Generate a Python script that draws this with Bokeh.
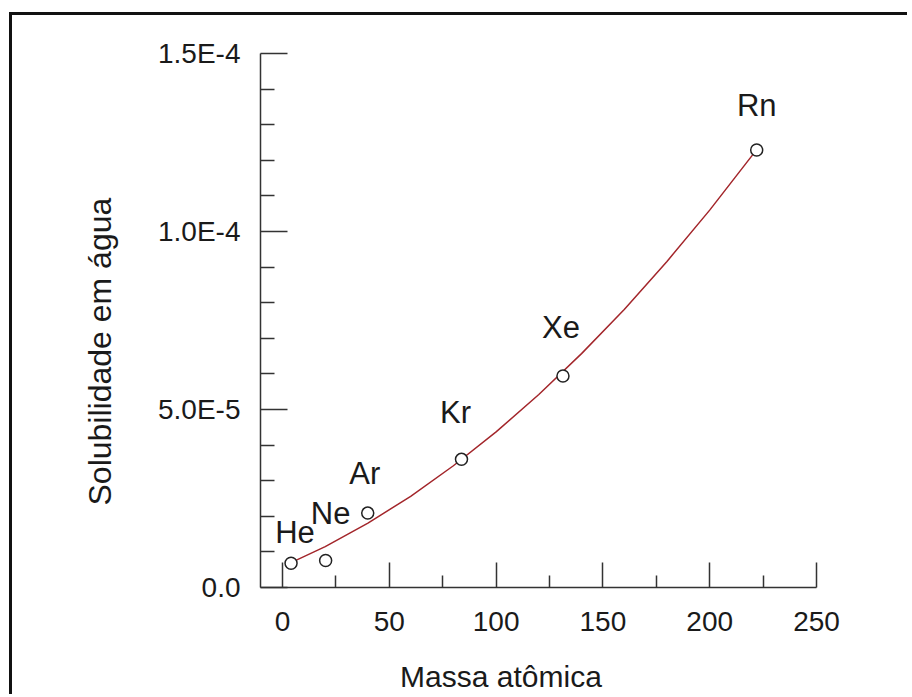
from bokeh.plotting import figure
from bokeh.models import FixedTicker, ColumnDataSource, Range1d, Title
from bokeh.core.properties import value
from bokeh.embed import file_html
from bokeh.resources import INLINE

# ---- data ----
elements = ["He", "Ne", "Ar", "Kr", "Xe", "Rn"]
atomic_mass = [4.0, 20.2, 39.9, 83.8, 131.3, 222.0]
solubility = [6.8e-6, 7.6e-6, 20.9e-6, 36.0e-6, 59.4e-6, 122.9e-6]

fit_mass = [4, 20, 40, 60, 80, 100, 120, 140, 160, 180, 200, 222]
fit_solubility = [7.0e-6, 11.5e-6, 18.1e-6, 25.6e-6, 34.2e-6, 43.7e-6,
                  54.2e-6, 65.7e-6, 78.1e-6, 91.6e-6, 106.0e-6, 123.0e-6]

x_ticks = [0, 50, 100, 150, 200, 250]
x_minor_ticks = [25, 75, 125, 175, 225]
y_ticks = [0.0, 5e-5, 1e-4, 1.5e-4]
y_tick_labels = ["0.0", "5.0E-5", "1.0E-4", "1.5E-4"]
y_minor_ticks = [1e-5, 2e-5, 3e-5, 4e-5, 6e-5, 7e-5, 8e-5, 9e-5,
                 1.1e-4, 1.2e-4, 1.3e-4, 1.4e-4]

x_title = "Massa atômica"
y_title = "Solubilidade em água"

# label placement offsets (screen px) relative to each point
label_dx = [4, 5, -3, -6, -2, 0]
label_dy = [-31, -47, -40, -47, -49, -44]

FONT = "Liberation Sans"
INK = "#1a1a1a"
NBSP = "\u00a0"

p = figure(width=898, height=682, output_backend="svg", toolbar_location=None,
           x_range=Range1d(-10.3, 250), y_range=Range1d(0, 1.5e-4),
           min_border_left=248, min_border_right=94,
           min_border_top=38, min_border_bottom=110,
           background_fill_color="white", border_fill_color="white")
p.outline_line_color = None
p.grid.visible = False
p.styles = {"border-top": "3px solid #111", "border-left": "3px solid #111",
            "margin-top": "12px", "margin-left": "9px"}

# axes
p.xaxis.ticker = FixedTicker(ticks=x_ticks, minor_ticks=x_minor_ticks)
p.yaxis.ticker = FixedTicker(ticks=y_ticks, minor_ticks=y_minor_ticks)
p.yaxis.major_label_overrides = {t: s for t, s in zip(y_ticks, y_tick_labels)}

for ax in (p.xaxis[0], p.yaxis[0]):
    ax.axis_line_color = "#333333"
    ax.axis_line_width = 1.5
    ax.major_tick_line_color = "#333333"
    ax.major_tick_line_width = 1.5
    ax.minor_tick_line_color = "#333333"
    ax.minor_tick_line_width = 1.5
    ax.major_tick_out = 0
    ax.minor_tick_out = 0
    ax.major_label_text_font = FONT
    ax.major_label_text_font_size = "28px"
    ax.major_label_text_color = INK

p.xaxis.major_tick_in = 25
p.xaxis.minor_tick_in = 12
p.yaxis.major_tick_in = 27
p.yaxis.minor_tick_in = 14
p.xaxis.major_label_standoff = 24
p.yaxis.major_label_standoff = 20

# x title: trailing no-break spaces move the centred text left as in the reference
p.xaxis.axis_label = x_title + NBSP * 9
p.xaxis.axis_label_text_font = FONT
p.xaxis.axis_label_text_font_size = "30px"
p.xaxis.axis_label_text_font_style = "normal"
p.xaxis.axis_label_text_color = INK
p.xaxis.axis_label_standoff = 26

# y title, shifted along the axis as in the reference
yt = Title(text=y_title, align="left", offset=82, vertical_align="bottom",
           text_font=FONT, text_font_size="32px", text_font_style="normal",
           text_color=INK, standoff=76)
p.add_layout(yt, "left")

# fitted curve
p.line(fit_mass, fit_solubility, line_color="#a3262b", line_width=1.5)

# data points
src = ColumnDataSource(dict(x=atomic_mass, y=solubility, name=elements,
                            dx=label_dx, dy=label_dy))
p.scatter("x", "y", source=src, marker="circle", size=12,
          fill_color="white", line_color="#222222", line_width=1.5)
p.text("x", "y", text="name", source=src, x_offset="dx", y_offset="dy",
       text_align="center", text_baseline="alphabetic",
       text_font=value(FONT), text_font_size="31px", text_color=INK)

open("out.html", "w").write(file_html(p, INLINE))
